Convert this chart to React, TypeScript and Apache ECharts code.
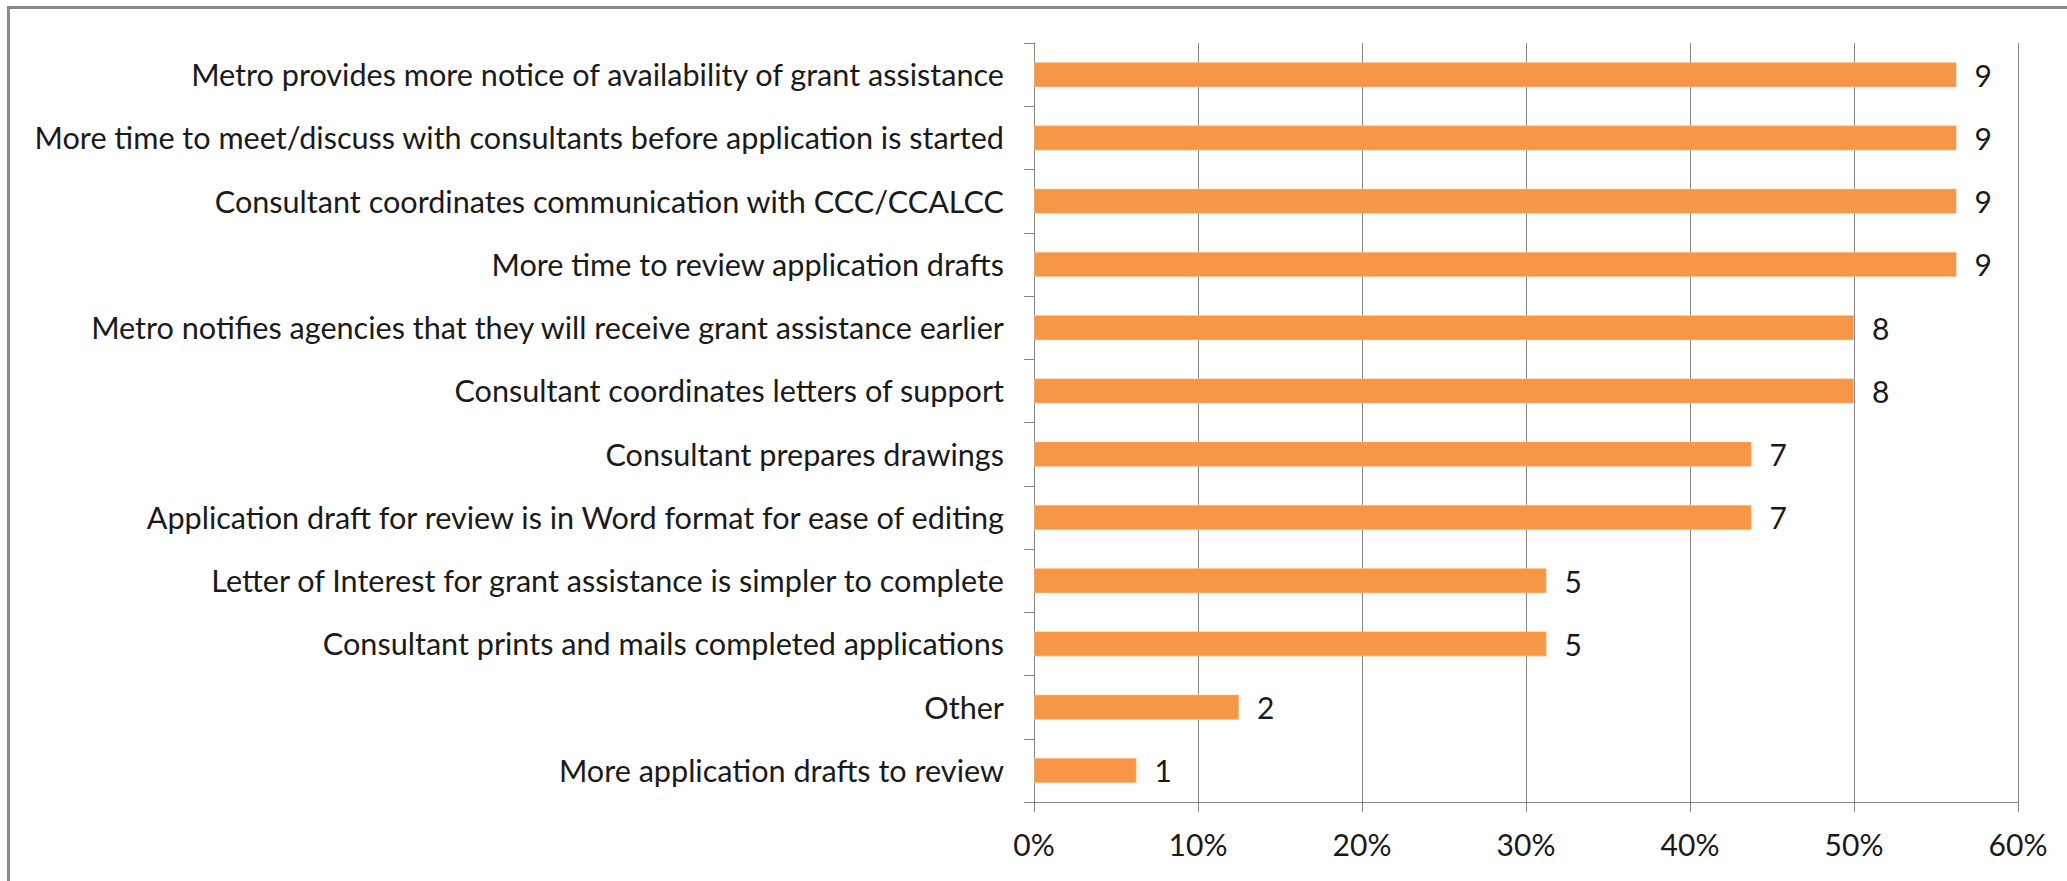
import React, { useEffect, useRef } from "react";
import * as echarts from "echarts";

const categories: string[] = [
  "Metro provides more notice of availability of grant assistance",
  "More time to meet/discuss with consultants before application is started",
  "Consultant coordinates communication with CCC/CCALCC",
  "More time to review application drafts",
  "Metro notifies agencies that they will receive grant assistance earlier",
  "Consultant coordinates letters of support",
  "Consultant prepares drawings",
  "Application draft for review is in Word format for ease of editing",
  "Letter of Interest for grant assistance is simpler to complete",
  "Consultant prints and mails completed applications",
  "Other",
  "More application drafts to review",
];

const counts: number[] = [9, 9, 9, 9, 8, 8, 7, 7, 5, 5, 2, 1];

// share of respondents (percent)
const percents: number[] = [56.25, 56.25, 56.25, 56.25, 50, 50, 43.75, 43.75, 31.25, 31.25, 12.5, 6.25];

const xTicks: number[] = [0, 10, 20, 30, 40, 50, 60];

const FONT = "Lato";
const TEXT = "#1a1a1a";
const AXIS = "#868686";
const BAR = "#F79646";

export default function App() {
  const ref = useRef<HTMLDivElement>(null);

  useEffect(() => {
    if (!ref.current) return;
    const chart = echarts.init(ref.current, undefined, { renderer: "svg" });
    const data = percents.map((p, i) => ({ value: p, count: counts[i] }));
    chart.setOption({
      animation: false,
      backgroundColor: "#ffffff",
      graphic: [
        {
          type: "rect",
          shape: { x: 8.5, y: 7.5, width: 2200, height: 1000 },
          style: { fill: "none", stroke: "#8a8a8a", lineWidth: 3 },
          silent: true,
        },
      ],
      grid: { left: 1034, right: 49, top: 43, bottom: 79, containLabel: false },
      xAxis: {
        type: "value",
        min: xTicks[0],
        max: xTicks[xTicks.length - 1],
        interval: 10,
        axisLine: { show: true, lineStyle: { color: AXIS, width: 1 } },
        axisTick: { show: true, length: 10, lineStyle: { color: AXIS } },
        splitLine: { show: true, lineStyle: { color: AXIS, width: 1 } },
        axisLabel: {
          formatter: (v: number) => `${v}%`,
          fontFamily: FONT,
          fontSize: 30,
          color: TEXT,
          margin: 27,
        },
      },
      yAxis: {
        type: "category",
        data: categories,
        inverse: true,
        axisLine: { show: true, lineStyle: { color: AXIS, width: 1 } },
        axisTick: { show: true, length: 10, lineStyle: { color: AXIS } },
        axisLabel: {
          fontFamily: FONT,
          fontSize: 30.6,
          color: TEXT,
          margin: 30,
        },
      },
      series: [
        {
          type: "bar",
          data,
          barWidth: 25,
          itemStyle: { color: BAR, borderColor: "#fbd1ad", borderWidth: 0.5 },
          label: {
            show: true,
            position: "right",
            distance: 18,
            fontFamily: FONT,
            fontSize: 30,
            color: TEXT,
            formatter: (p: any) => String(p.data.count),
          },
        },
      ],
    });
    return () => chart.dispose();
  }, []);

  return (
    <div
      ref={ref}
      style={{ position: "fixed", left: 0, top: 0, width: 2067, height: 881 }}
    />
  );
}
